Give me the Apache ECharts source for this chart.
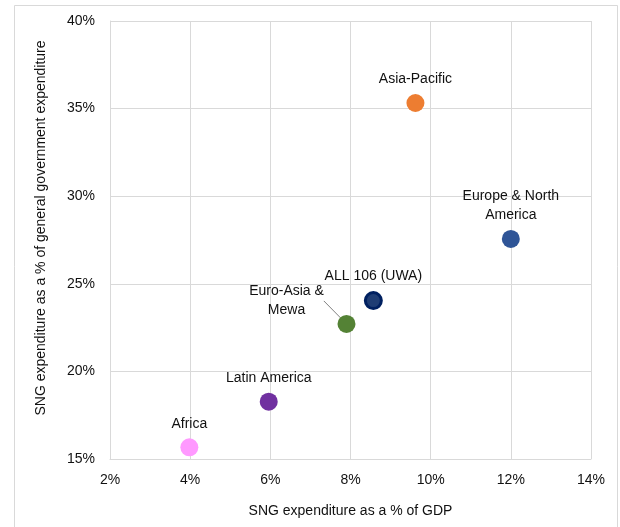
<!DOCTYPE html>
<html>
<head>
<meta charset="utf-8">
<script src="https://cdn.jsdelivr.net/npm/echarts@6/dist/echarts.min.js"></script>
<style>
html,body{margin:0;padding:0;background:#fff;}
#chart{width:620px;height:527px;}
</style>
</head>
<body>
<div id="chart"></div>
<script>
// ---- data ----
var regions = ['Asia-Pacific', 'Europe & North America', 'ALL 106 (UWA)', 'Euro-Asia & Mewa', 'Latin America', 'Africa'];
var labelTexts = ['Asia-Pacific', 'Europe & North\nAmerica', 'ALL 106 (UWA)', 'Euro-Asia &\nMewa', 'Latin America', 'Africa'];
var gdpShare = [9.62, 12.0, 8.57, 7.90, 5.96, 3.98];          // SNG expenditure as % of GDP
var govShare = [35.32, 27.56, 24.04, 22.71, 18.27, 15.67];     // SNG expenditure as % of general government expenditure
var xTicks = [2, 4, 6, 8, 10, 12, 14];
var yTicks = [15, 20, 25, 30, 35, 40];

// ---- styles ----
var colors = ['#ED7D31', '#2F5597', '#1F3D74', '#548235', '#7030A0', '#FF99FF'];
var textColor = '#111111';
var gridColor = '#d9d9d9';
var FONT = '"Liberation Sans", Arial, sans-serif';

var data = regions.map(function (r, i) {
  var item = {
    name: r,
    value: [gdpShare[i], govShare[i]],
    itemStyle: { color: colors[i], opacity: 1 },
    label: { formatter: labelTexts[i] }
  };
  if (r === 'ALL 106 (UWA)') {
    item.symbolSize = 16;
    item.itemStyle.borderColor = '#002060';
    item.itemStyle.borderWidth = 3;
  }
  if (r === 'Euro-Asia & Mewa') {
    item.labelLine = { show: true, lineStyle: { color: '#7f7f7f', width: 1 } };
  }
  return item;
});

var chart = echarts.init(document.getElementById('chart'), null, { renderer: 'canvas' });
chart.setOption({
  animation: false,
  backgroundColor: '#fff',
  textStyle: { fontFamily: FONT },
  graphic: [{
    type: 'rect',
    shape: { x: 14.5, y: 5.5, width: 603, height: 540 },
    style: { fill: null, stroke: gridColor, lineWidth: 1 },
    silent: true
  }],
  grid: { left: 110, top: 21, right: 29, bottom: 68, containLabel: false },
  xAxis: {
    type: 'value',
    min: xTicks[0], max: xTicks[xTicks.length - 1], interval: 2,
    name: 'SNG expenditure as a % of GDP',
    nameLocation: 'middle', nameGap: 45,
    nameTextStyle: { fontSize: 14, color: textColor, fontFamily: FONT },
    axisLine: { show: true, lineStyle: { color: gridColor } },
    axisTick: { show: false },
    axisLabel: { formatter: '{value}%', fontSize: 14, color: textColor, margin: 14, fontFamily: FONT },
    splitLine: { show: true, lineStyle: { color: gridColor, width: 1 } }
  },
  yAxis: {
    type: 'value',
    min: yTicks[0], max: yTicks[yTicks.length - 1], interval: 5,
    name: 'SNG expenditure as a % of general government expenditure',
    nameLocation: 'middle', nameGap: 62,
    nameTextStyle: { fontSize: 14, color: textColor, fontFamily: FONT, padding: [0, 0, 0, 24] },
    axisLine: { show: true, lineStyle: { color: gridColor } },
    axisTick: { show: false },
    axisLabel: { formatter: '{value}%', fontSize: 14, color: textColor, margin: 15, fontFamily: FONT },
    splitLine: { show: true, lineStyle: { color: gridColor, width: 1 } }
  },
  series: [{
    type: 'scatter',
    symbol: 'circle',
    symbolSize: 18,
    data: data,
    itemStyle: { opacity: 1 },
    label: {
      show: true,
      position: 'top',
      distance: 5,
      fontSize: 14,
      lineHeight: 19,
      color: textColor,
      fontFamily: FONT,
      align: 'center'
    },
    labelLine: { show: false },
    labelLayout: function (params) {
      if (regions[params.dataIndex] === 'Euro-Asia & Mewa') {
        return { dx: -60, dy: 10 };
      }
      return {};
    },
    z: 3
  }]
});
</script>
</body>
</html>
